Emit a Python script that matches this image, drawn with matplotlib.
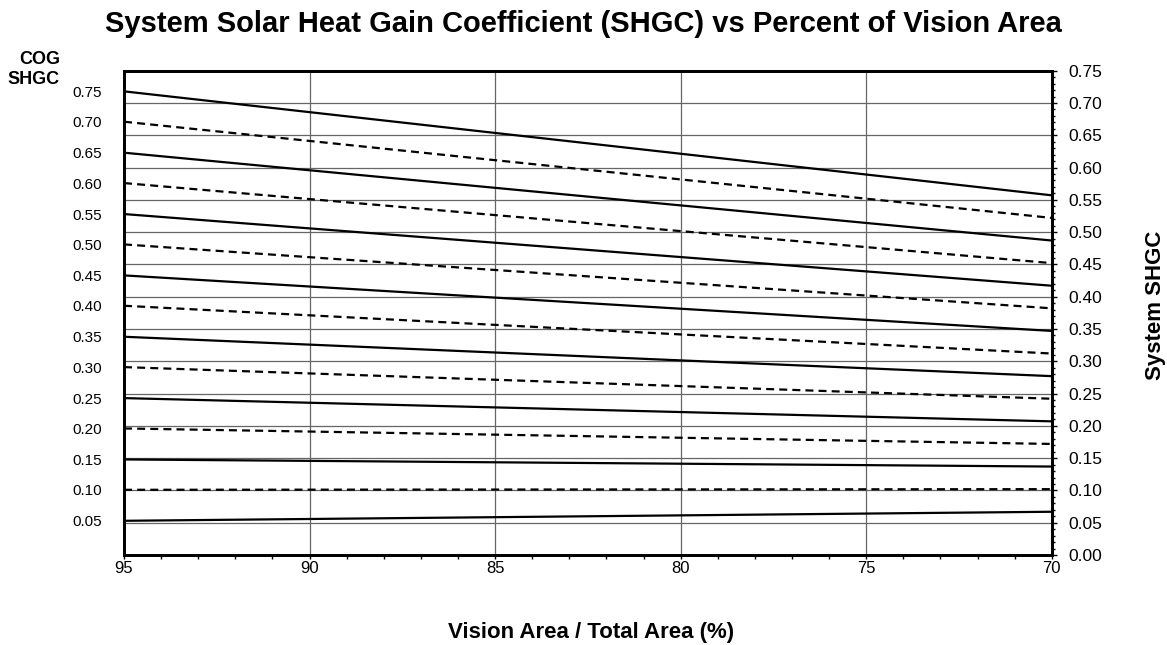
import numpy as np
import matplotlib
matplotlib.use("Agg")
import matplotlib.pyplot as plt
from matplotlib.ticker import MultipleLocator

plt.rcParams['font.family'] = ['Liberation Sans', 'DejaVu Sans']

# Centre-of-glass SHGC for each curve, with system SHGC read at 95% and 70% vision area
cog_shgc = ['0.75', '0.70', '0.65', '0.60', '0.55', '0.50', '0.45', '0.40',
            '0.35', '0.30', '0.25', '0.20', '0.15', '0.10', '0.05']
vision_pct = [95, 70]
system_at_95 = [0.718, 0.671, 0.623, 0.576, 0.528, 0.481, 0.433, 0.386,
                0.338, 0.291, 0.243, 0.196, 0.148, 0.101, 0.053]
system_at_70 = [0.557, 0.522, 0.487, 0.452, 0.417, 0.382, 0.347, 0.312,
                0.277, 0.242, 0.207, 0.172, 0.137, 0.102, 0.067]

fig = plt.figure(figsize=(11.67, 6.45), dpi=100)
ax = fig.add_axes([0.1063, 0.1395, 0.795, 0.7509])

for i, (a, b) in enumerate(zip(system_at_95, system_at_70)):
    if i % 2 == 0:
        ax.plot(vision_pct, [a, b], color='black', lw=1.6, solid_capstyle='butt')
    else:
        ax.plot(vision_pct, [a, b], color='black', lw=1.6, dashes=(3.6, 2.3))

ax.set_xlim(95, 70)
ax.set_ylim(0, 0.75)

# x axis: labels every 5%, small ticks every 1%
ax.xaxis.set_major_locator(MultipleLocator(5))
ax.xaxis.set_minor_locator(MultipleLocator(1))
ax.tick_params(axis='x', which='both', direction='out', length=3, width=1,
               labelsize=12, pad=1)

# left side: COG value written at the start of each curve
ax.set_yticks(system_at_95, cog_shgc)
ax.set_yticks(np.arange(0.05, 0.751, 0.05), minor=True)
ax.tick_params(axis='y', which='both', length=0, labelsize=11, pad=16)

ax.grid(axis='y', which='minor', color='#666666', lw=0.9)
ax.grid(axis='x', which='major', color='#666666', lw=0.9)
ax.set_axisbelow(True)

for sp in ax.spines.values():
    sp.set_linewidth(2)

# right side: system SHGC scale
ax2 = ax.twinx()
ax2.set_ylim(0, 0.75)
ax2.yaxis.set_major_locator(MultipleLocator(0.05))
ax2.yaxis.set_minor_locator(MultipleLocator(0.01))
ax2.yaxis.set_major_formatter(lambda v, p: f"{v:.2f}")
ax2.tick_params(axis='y', which='major', direction='out', length=3.6, width=1,
                labelsize=12.5, pad=8)
ax2.tick_params(axis='y', which='minor', direction='out', length=2.2, width=1)
for sp in ax2.spines.values():
    sp.set_linewidth(2)

fig.text(0.5, 1 - 32 / 645, 'System Solar Heat Gain Coefficient (SHGC) vs Percent of Vision Area',
         ha='center', va='baseline', fontsize=21, fontweight='bold')
fig.text(60 / 1167, 1 - 84 / 645, 'COG\nSHGC', ha='right', va='baseline',
         fontsize=13, fontweight='bold', linespacing=1.2, multialignment='right')
fig.text(1155 / 1167, 1 - 305 / 645, 'System SHGC', ha='center', va='center',
         rotation=90, fontsize=16, fontweight='bold')
fig.text(591 / 1167, 1 - 638 / 645, 'Vision Area / Total Area (%)', ha='center', va='baseline',
         fontsize=16, fontweight='bold')

fig.savefig('out.png', dpi=100)
